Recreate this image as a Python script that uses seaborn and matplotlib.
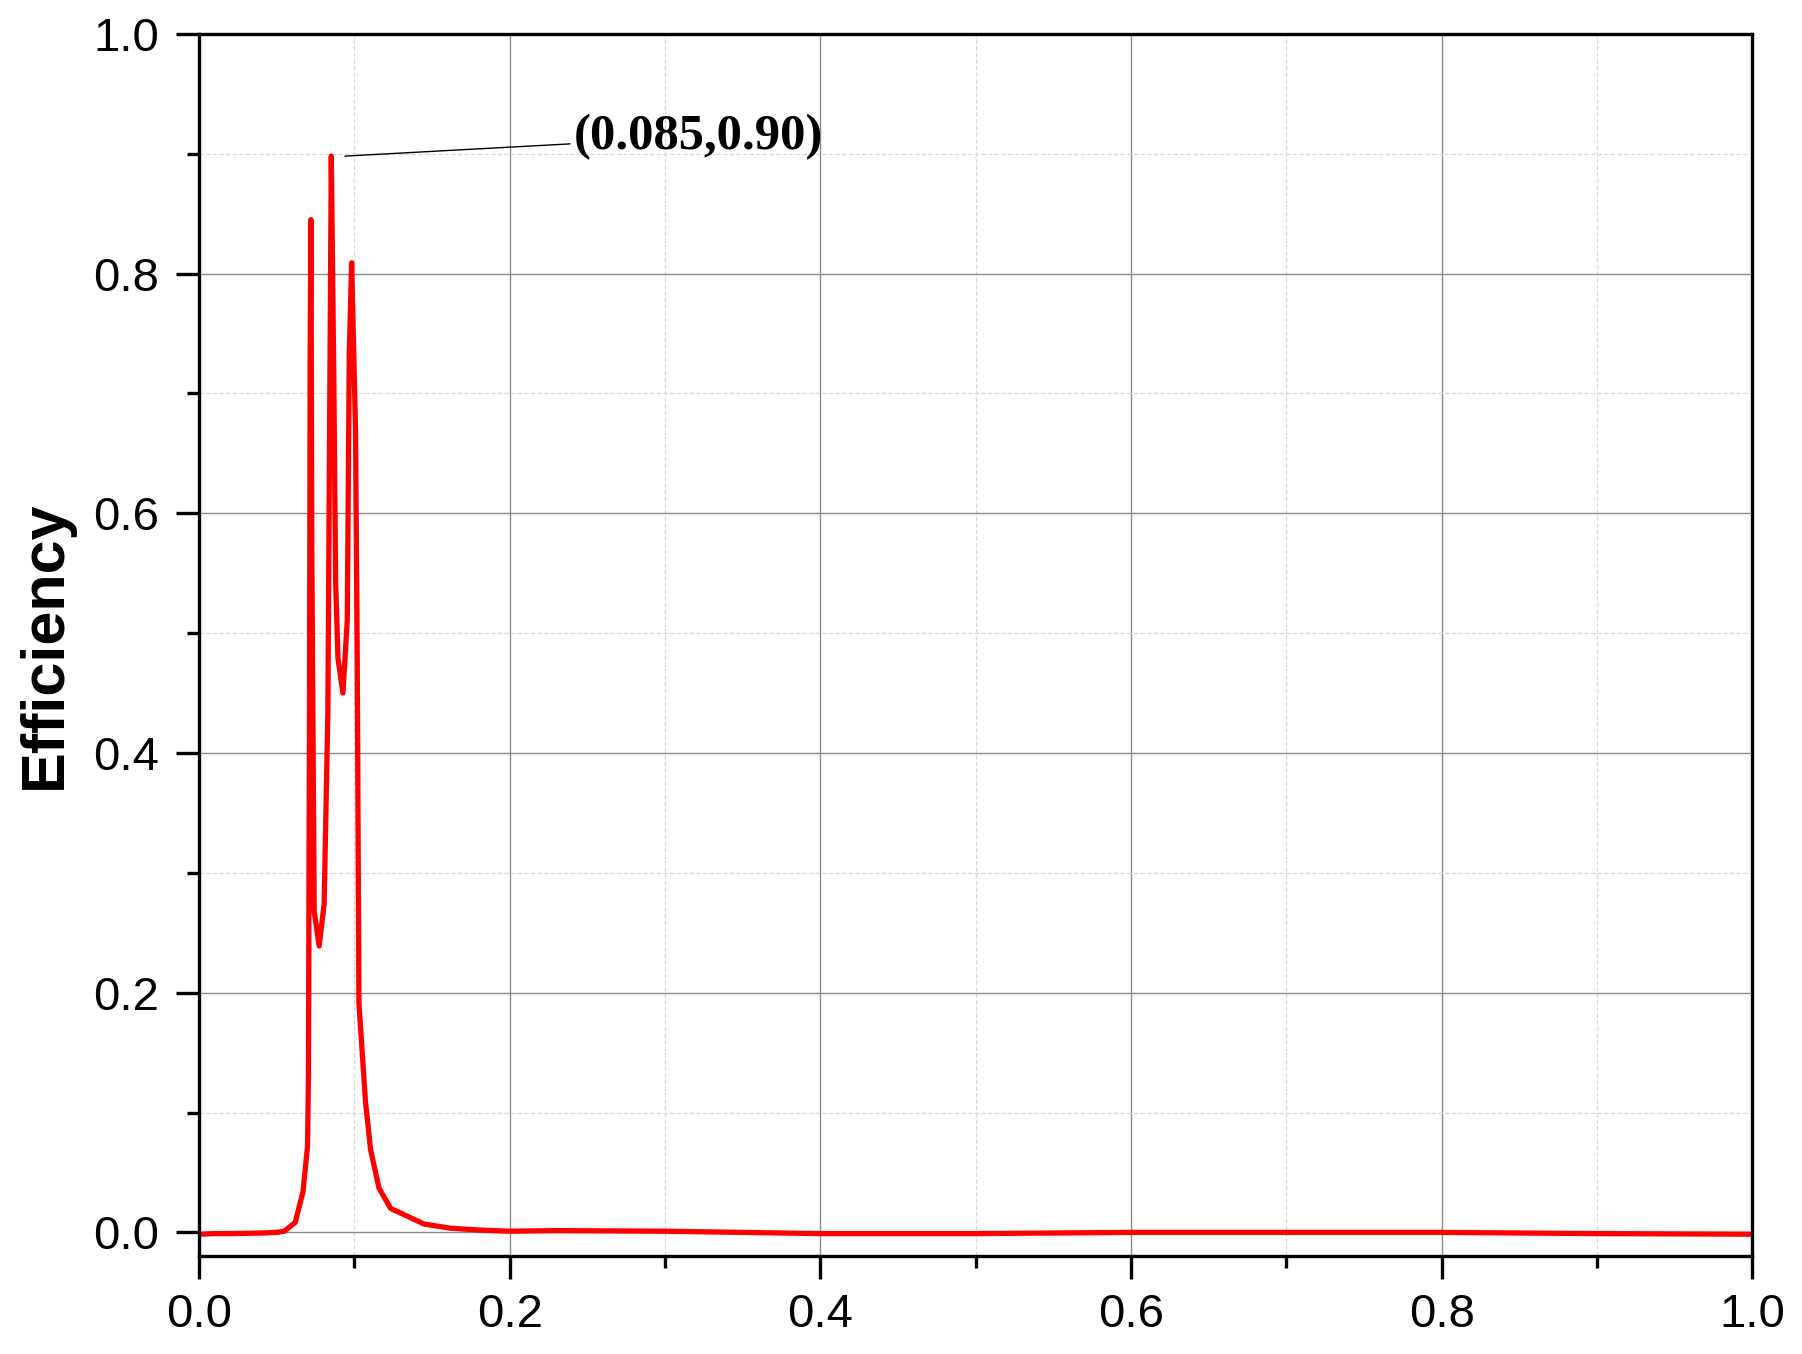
import numpy as np
import pandas as pd
import matplotlib
matplotlib.use('Agg')
import matplotlib.pyplot as plt
from matplotlib.ticker import MultipleLocator, FormatStrFormatter
import seaborn as sns

# curve
freq = [0.0, 0.01, 0.02, 0.03, 0.04, 0.05, 0.055, 0.062, 0.067, 0.0699, 0.0705,
        0.0712, 0.0716, 0.0721, 0.0727, 0.0742, 0.0774, 0.0806, 0.083, 0.0852,
        0.0869, 0.088, 0.0895, 0.0927, 0.0955, 0.0968, 0.0983, 0.1008, 0.1019,
        0.103, 0.1073, 0.1105, 0.1159, 0.1234, 0.1449, 0.162, 0.18, 0.2, 0.23,
        0.3, 0.4, 0.5, 0.6, 0.7, 0.8, 0.9, 1.0]
efficiency = [-0.0015, -0.001, -0.001, -0.0008, -0.0005, 0.0, 0.001, 0.0084, 0.034,
              0.072, 0.13, 0.45, 0.73, 0.845, 0.56, 0.268, 0.239, 0.274, 0.434,
              0.898, 0.703, 0.543, 0.479, 0.450, 0.511, 0.735, 0.809, 0.670, 0.479,
              0.191, 0.108, 0.069, 0.037, 0.020, 0.007, 0.0035, 0.002, 0.001, 0.0015,
              0.001, -0.001, -0.001, 0.0, 0.0, 0.0, -0.001, -0.0015]

peak_label = '(0.085,0.90)'
peak_xy = (0.094, 0.898)
label_xy = (0.241, 0.914)

df = pd.DataFrame({'x': freq, 'y': efficiency})

sns.set_style('ticks')
plt.rcParams['font.family'] = ['Liberation Sans', 'DejaVu Sans']
plt.rcParams['text.color'] = 'black'
plt.rcParams['axes.labelcolor'] = 'black'
plt.rcParams['xtick.color'] = 'black'
plt.rcParams['ytick.color'] = 'black'

fig = plt.figure(figsize=(18.02, 13.54), dpi=100)
ax = fig.add_axes([0.1104, 0.0721, 0.862, 0.9029])

sns.lineplot(data=df, x='x', y='y', ax=ax, color='#ff0000', linewidth=3.8,
             estimator=None, sort=False)

ax.set_xlim(0, 1.0)
ax.set_ylim(-0.02, 1.0)
ax.xaxis.set_major_locator(MultipleLocator(0.2))
ax.xaxis.set_minor_locator(MultipleLocator(0.1))
ax.yaxis.set_major_locator(MultipleLocator(0.2))
ax.yaxis.set_minor_locator(MultipleLocator(0.1))
ax.xaxis.set_major_formatter(FormatStrFormatter('%.1f'))
ax.yaxis.set_major_formatter(FormatStrFormatter('%.1f'))

ax.set_axisbelow(True)
ax.grid(which='major', color='#8c8c8c', linewidth=1.0, linestyle='-')
ax.grid(which='minor', color='#d9d9d9', linewidth=0.9, linestyle='--')

for s in ax.spines.values():
    s.set_visible(True)
    s.set_linewidth(2.4)
    s.set_color('black')

ax.tick_params(which='major', direction='out', length=16.5, width=2.4,
               labelsize=34, pad=10, top=False, right=False,
               colors='black')
ax.tick_params(which='minor', direction='out', length=8.5, width=2.4,
               top=False, right=False, colors='black')
ax.tick_params(axis='y', which='major', pad=12)

ax.set_xlabel('')
ax.set_ylabel('Efficiency', fontsize=44, fontweight='bold', labelpad=14,
              color='black')

ax.annotate(peak_label, xy=peak_xy, xytext=label_xy, textcoords='data',
            fontsize=36.5, fontweight='bold', family='Liberation Serif',
            va='center', ha='left', color='black',
            arrowprops=dict(arrowstyle='-', color='black', lw=1.0,
                            shrinkA=0, shrinkB=0))

plt.savefig('out.png', dpi=100)
